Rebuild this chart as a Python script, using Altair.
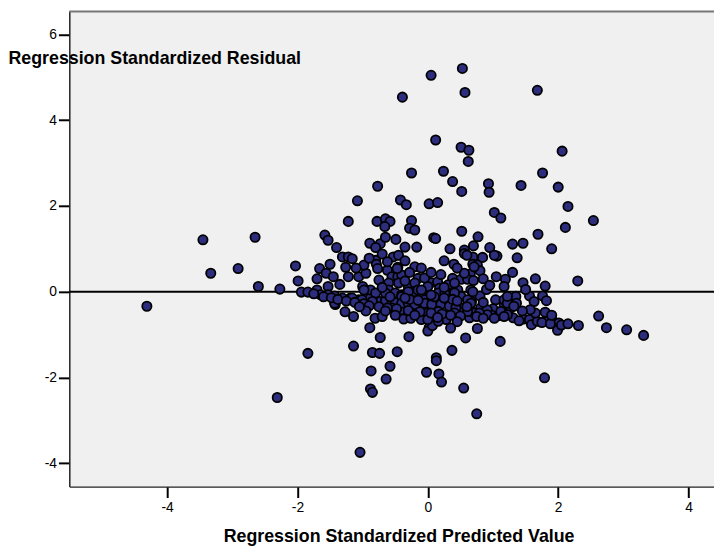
import altair as alt
import pandas as pd

# Regression Standardized Predicted Value (x) and Residual (y)
pred = [
    -0.39, -0.25, -0.77, -1.08, -0.42, -0.33, -1.22, -0.78, -0.65, -0.58,
    -0.66, -0.25, -0.28, -0.20, -3.45, -2.65, -1.58, -1.53, -1.40, -0.89,
    -0.73, -0.65, -0.49, -0.35, -0.17, -0.80,
    0.53, 0.05, 0.57, 1.68, 0.12, 0.51, 0.63, 0.62, 2.06, 0.24,
    0.38, 0.52, 0.93, 0.94, 1.43, 1.76, 2.00, 2.15, 2.54, 2.11,
    0.02, 0.15, 1.02, 1.12, 0.52, 0.09, 0.12, 0.77, 0.70, 0.95,
    1.30, 1.46, 1.69, 1.90, 0.34, 0.56,
    -3.33, -2.91, -4.31, -2.60, -2.27, -2.03, -1.99, -1.94, -1.84, -1.70,
    -1.65, -1.66, -1.56, -1.50, -1.53, -1.43, -1.42, -1.35, -1.27, -1.14,
    -1.31, -1.22, -1.16, -1.26, -1.22, -1.06, -0.95, -1.19, -1.06, -1.00,
    -0.95, -0.88, -0.80, -0.73, -0.65, -0.81, -0.89, -0.73, -0.29, -1.14,
    -0.85, -0.74, -0.47, -1.84, -0.87, -0.58, -0.64, -0.88, -0.85, -2.31,
    -1.04,
    -0.80, -0.79, -0.77, -0.62, -0.53, -0.45, -0.46, -0.55, -0.46, -0.40,
    -0.20, -0.15, -0.75, -0.60, -0.45, -0.30, -0.20, -0.88, -0.60, -0.50,
    -0.40, -0.32, -0.20, -0.10, -0.55, -0.50, -0.35, -0.25, -0.15, -0.37,
    -0.26, -0.40,
    1.06, 1.37, 0.69, 0.84, 0.40, 0.69, 0.76, 0.80, 0.65, 0.05,
    0.15, 0.38, 0.51, 0.61, 0.70, 1.19, 1.17, 1.46, 1.80, 2.30,
    1.56, 1.63, 1.76, 1.82, 1.35, 1.36, 1.04, 1.00, 1.17, 1.27,
    0.80, 0.46, 0.66, -0.15, 0.00, 0.18, 0.31, 0.51, 0.67, -0.05,
    0.11, 0.20, 0.33, 0.54, -0.20, -0.02, 0.16, 0.48, 0.69, 0.87,
    0.00, 0.28, 0.64, 0.97, 1.09, 1.31, 1.47, 1.56, 1.59, 1.68,
    1.81, 1.92, 2.01, 1.99, 1.80, 1.65, 1.57, 2.62, 2.31, 2.74,
    3.05, 3.31, 0.76, 0.02, 0.00, 0.07, 0.58, 1.11, 0.37, 0.13,
    0.13, -0.02, 0.17, 0.21, 0.55, 1.79, 0.75,
    -1.53, -1.43, -0.47, 0.31, 0.41, 0.56, 0.71, 0.56, 1.02, -0.98,
    -0.80, -0.65, -0.40, -0.30, -0.10, 0.16, 0.26, 0.41, 0.61, 0.69,
    -1.31, -1.16, -1.01, -0.85, -0.40, -0.30, -0.20, -0.05, 0.06, 0.43,
    0.66, 0.81, -0.70, -0.55, -0.10, 0.00, 0.16, 0.41, 0.71, 0.91,
    1.12, 1.22, 1.17, 1.17, 1.22, 1.32, 1.22, 0.91, 0.79, 0.61,
    -1.75, -1.60, -1.48, -1.38, -1.25, -1.12, -0.98, -0.90, -0.75, -0.62,
    -0.48, -0.30, -0.12, 0.05, 0.22, 0.35, 0.50, 0.75, 0.85, 1.02,
    1.40, 1.75, 1.88, 2.05, -0.58, -0.28, 0.10, 0.38, -0.70, -0.35,
    0.25, 0.90,
    -0.98, -0.90, -0.70, -0.62, -0.35, -0.28, -0.10, -0.05, 0.05, 0.20,
    0.25, 0.45, 0.60, 0.85, 0.95, 1.05, 1.30, 1.50, 1.65, -1.45,
    -1.70, -1.10, -0.35, -0.15, 0.05, 0.25, 0.45, 0.60, 0.85, 1.45,
    -0.65, -0.50, -0.20, 0.15, 0.45, 1.90, 2.15, -0.95, -1.05, 0.35,
]
resid = [
    4.54, 2.77, 2.46, 2.12, 2.14, 2.03, 1.64, 1.64, 1.70, 1.64,
    1.52, 1.66, 1.48, 1.44, 1.21, 1.27, 1.32, 1.20, 1.03, 1.13,
    1.12, 1.27, 1.22, 1.04, 1.04, 1.03,
    5.21, 5.05, 4.65, 4.70, 3.54, 3.37, 3.30, 3.04, 3.28, 2.81,
    2.57, 2.34, 2.52, 2.32, 2.48, 2.77, 2.44, 1.99, 1.66, 1.50,
    2.05, 2.08, 1.85, 1.72, 1.41, 1.26, 1.24, 1.28, 1.07, 1.03,
    1.11, 1.13, 1.34, 1.00, 1.00, 0.97,
    0.43, 0.54, -0.34, 0.12, 0.06, 0.60, 0.25, -0.01, -0.01, 0.04,
    -0.07, 0.54, 0.43, 0.64, 0.12, -0.10, -0.30, 0.17, -0.47, -0.58,
    0.81, 0.81, 0.77, 0.57, 0.35, 0.35, 0.43, -0.15, -0.19, 0.12,
    -0.03, -0.15, -0.23, -0.23, -0.21, -0.62, -0.84, -1.07, -1.05, -1.27,
    -1.42, -1.44, -1.40, -1.44, -1.85, -1.74, -2.04, -2.27, -2.35, -2.47,
    -3.75,
    0.73, 0.64, 0.54, 0.50, 0.81, 0.85, 0.57, 0.35, 0.35, 0.39,
    0.58, 0.31, 0.27, 0.20, 0.20, 0.12, 0.20, 0.04, 0.04, -0.03,
    -0.07, -0.03, 0.00, -0.07, -0.27, -0.25, -0.28, -0.34, -0.42, -0.64,
    -0.62, -0.42,
    0.83, 0.79, 0.81, 0.80, 0.64, 0.64, 0.62, 0.49, 0.41, 0.21,
    0.23, 0.31, 0.29, 0.29, 0.26, 0.29, 0.12, 0.21, 0.13, 0.25,
    -0.10, -0.23, -0.10, -0.21, -0.11, -0.27, -0.19, -0.40, -0.30, -0.38,
    -0.10, 0.04, 0.04, 0.04, 0.12, 0.08, -0.03, -0.11, -0.23, -0.19,
    -0.27, -0.30, -0.34, -0.38, -0.38, -0.42, -0.46, -0.46, -0.48, -0.46,
    -0.50, -0.65, -0.61, -0.54, -0.56, -0.61, -0.64, -0.65, -0.77, -0.69,
    -0.69, -0.69, -0.73, -0.90, -0.48, -0.50, -0.42, -0.57, -0.79, -0.84,
    -0.89, -1.02, -0.86, -0.84, -0.92, -0.79, -1.08, -1.16, -1.37, -1.54,
    -1.61, -1.88, -1.92, -2.11, -2.25, -2.01, -2.85,
    -0.07, -0.27, 0.54, 0.16, 0.20, 0.43, 0.58, 0.89, 0.85, 0.04,
    -0.03, -0.03, -0.11, 0.00, 0.04, -0.03, -0.03, -0.03, -0.19, 0.00,
    -0.15, -0.15, -0.19, -0.23, -0.27, -0.27, -0.30, -0.27, -0.30, -0.38,
    -0.27, -0.38, -0.58, -0.38, -0.65, -0.65, -0.69, -0.50, -0.50, -0.42,
    -0.46, -0.54, -0.58, -0.19, -0.27, -0.34, -0.11, -0.54, -0.50, -0.46,
    -0.05, -0.12, -0.14, -0.18, -0.22, -0.25, -0.28, -0.33, -0.35, -0.38,
    -0.40, -0.44, -0.47, -0.50, -0.52, -0.55, -0.57, -0.58, -0.62, -0.62,
    -0.68, -0.72, -0.75, -0.78, -0.12, -0.18, -0.12, -0.18, 0.10, 0.25,
    0.10, 0.05,
    0.62, 0.78, 0.88, 0.70, 0.72, 0.45, 0.55, 0.32, 0.45, 0.40,
    0.72, 0.55, 0.85, 0.30, 0.15, 0.35, 0.45, 0.05, 0.30, 0.35,
    0.30, 0.55, -0.15, -0.20, -0.08, -0.15, -0.22, -0.35, -0.25, -0.45,
    -0.45, -0.55, -0.55, -0.60, -0.70, -0.55, -0.75, -0.45, -0.35, -0.85,
]

x_ticks = [-4, -2, 0, 2, 4]
y_ticks = [-4, -2, 0, 2, 4, 6]
x_title = "Regression Standardized Predicted Value"
y_title = "Regression Standardized Residual"
chart_title = "Dependent Variable: 收入"

df = pd.DataFrame({"pred": pred, "resid": resid})

W, H = 652, 481
SANS = "Liberation Sans, Arial, Helvetica, sans-serif"

xscale = alt.Scale(domain=[-5.5, 4.39], nice=False, zero=False)
yscale = alt.Scale(domain=[-4.55, 6.55], nice=False, zero=False)

xaxis = alt.Axis(
    values=x_ticks, title=x_title, tickSize=11, labelPadding=3,
    labelExpr="'' + datum.value", labelFlush=False, labelOverlap=False,
    titleX=333, titleY=55, titleBaseline="alphabetic", titleAlign="center",
)
yaxis = alt.Axis(
    values=y_ticks, title=y_title, tickSize=11, labelPadding=2,
    labelExpr="'' + datum.value", labelOverlap=False,
    titleAngle=0, titleX=-62, titleY=48, titleAlign="left", titleBaseline="middle",
)

zero_line = alt.Chart(pd.DataFrame({"z": [0]})).mark_rule(
    color="black", strokeWidth=2
).encode(y=alt.Y("z:Q", scale=yscale, axis=yaxis))

top_line = alt.Chart(pd.DataFrame({"z": [0]})).mark_rule(
    color="#777777", strokeWidth=2
).encode(x=alt.value(0), x2=alt.value(W), y=alt.value(0.5))

points = alt.Chart(df).mark_circle(
    color="#2c2d7c", stroke="black", strokeWidth=1.8, size=88, opacity=1
).encode(
    x=alt.X("pred:Q", scale=xscale, axis=xaxis),
    y=alt.Y("resid:Q", scale=yscale, axis=yaxis),
)

chart = alt.layer(zero_line, top_line, points).properties(
    width=W, height=H,
    autosize=alt.AutoSizeParams(type="none"),
    padding={"left": 62, "top": 0, "right": 0, "bottom": 58},
    title=alt.Title(chart_title, font="Liberation Serif", fontSize=24,
                    fontWeight="normal", color="black", anchor="middle", dx=58),
).configure_view(
    fill="#f0f0f0", stroke="transparent"
).configure_axis(
    labelFont=SANS, labelFontSize=14, labelColor="black",
    tickColor="black", tickWidth=2,
    domainColor="#222222", domainWidth=1.5, grid=False,
    titleFont=SANS, titleFontSize=18, titleFontWeight="bold", titleColor="black",
)

chart.save("out.html", embed_options={"renderer": "svg", "actions": False})
